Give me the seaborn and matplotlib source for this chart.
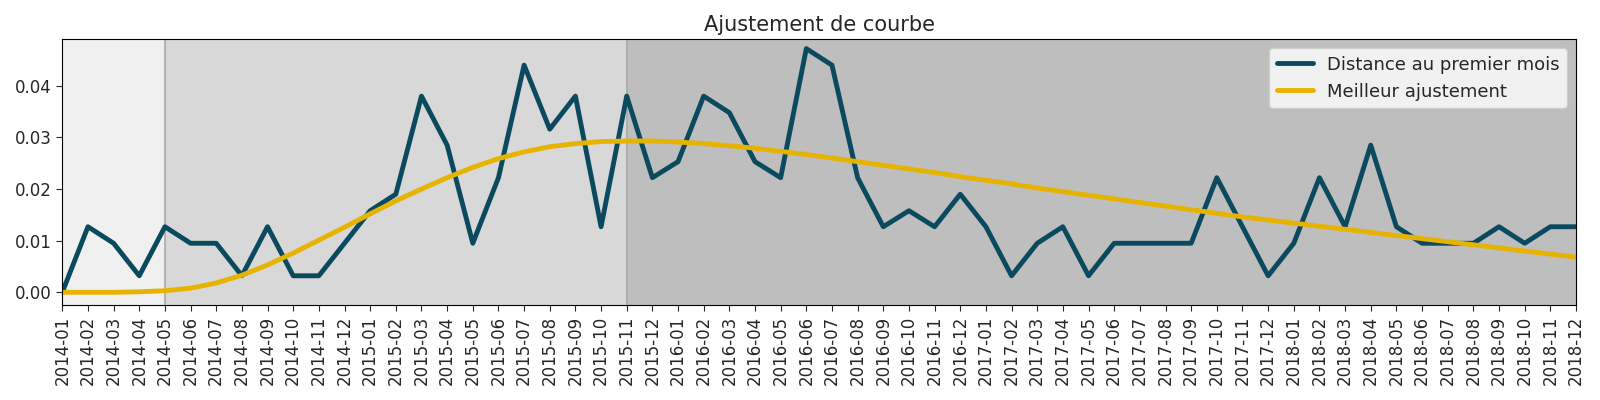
import pandas as pd
import seaborn as sns
import matplotlib
matplotlib.use("Agg")
import matplotlib.pyplot as plt

months = [f"{y}-{m:02d}" for y in range(2014, 2019) for m in range(1, 13)]

distance = [0.000, 0.0127, 0.0095, 0.0032, 0.0127, 0.0095, 0.0095, 0.0032, 0.0127, 0.0032, 0.0032, 0.0095,
            0.0158, 0.0190, 0.0380, 0.0285, 0.0095, 0.0222, 0.0440, 0.0316, 0.0380, 0.0127, 0.0380, 0.0222,
            0.0253, 0.0380, 0.0348, 0.0253, 0.0222, 0.0472, 0.0440, 0.0222, 0.0127, 0.0158, 0.0127, 0.0190,
            0.0127, 0.0032, 0.0095, 0.0127, 0.0032, 0.0095, 0.0095, 0.0095, 0.0095, 0.0222, 0.0127, 0.0032,
            0.0095, 0.0222, 0.0127, 0.0285, 0.0127, 0.0095, 0.0095, 0.0095, 0.0127, 0.0095, 0.0127, 0.0127]

fit = [0.0000, 0.0000, 0.0000, 0.0001, 0.0003, 0.0008, 0.0018, 0.0033, 0.0053, 0.0076, 0.0101, 0.0126,
       0.0152, 0.0177, 0.0200, 0.0222, 0.0242, 0.0259, 0.0272, 0.0282, 0.0288, 0.0292, 0.0293, 0.0293,
       0.0291, 0.0288, 0.0284, 0.0279, 0.0273, 0.0267, 0.0260, 0.0253, 0.0246, 0.0239, 0.0232, 0.0224,
       0.0217, 0.0210, 0.0202, 0.0195, 0.0188, 0.0181, 0.0174, 0.0167, 0.0160, 0.0153, 0.0146, 0.0140,
       0.0134, 0.0128, 0.0122, 0.0116, 0.0110, 0.0104, 0.0098, 0.0092, 0.0086, 0.0080, 0.0074, 0.0068]

phase_edges = [0, 4, 22, 59]
phase_colors = ["#f0f0f0", "#d8d8d8", "#bebebe"]

df = pd.DataFrame({"x": range(len(months)), "distance": distance, "fit": fit})

sns.set_style("white")
plt.rcParams["font.family"] = ["DejaVu Sans"]
fig, ax = plt.subplots(figsize=(16, 4), dpi=100)

for i, c in enumerate(phase_colors):
    ax.axvspan(phase_edges[i], phase_edges[i + 1], color=c, zorder=0, lw=0)
for e in phase_edges[1:-1]:
    ax.axvline(e, color="#aaaaaa", lw=1.2, zorder=1)

sns.lineplot(data=df, x="x", y="distance", ax=ax, color="#0b4a5e", lw=3.5, label="Distance au premier mois")
sns.lineplot(data=df, x="x", y="fit", ax=ax, color="#e6b400", lw=3.5, label="Meilleur ajustement")

ax.set_xlim(0, 59)
ax.set_ylim(-0.0025, 0.049)
ax.set_xticks(range(len(months)))
ax.set_xticklabels(months, rotation=90, fontsize=12)
ax.tick_params(axis="y", labelsize=12)
ax.tick_params(axis="both", which="both", direction="out", length=4, left=True, bottom=True)
ax.set_xlabel("")
ax.set_ylabel("")
ax.set_title("Ajustement de courbe", fontsize=15)
for s in ax.spines.values():
    s.set_color("black")
ax.legend(loc="upper right", fontsize=13, frameon=True)

plt.tight_layout()
plt.savefig("out.png")
